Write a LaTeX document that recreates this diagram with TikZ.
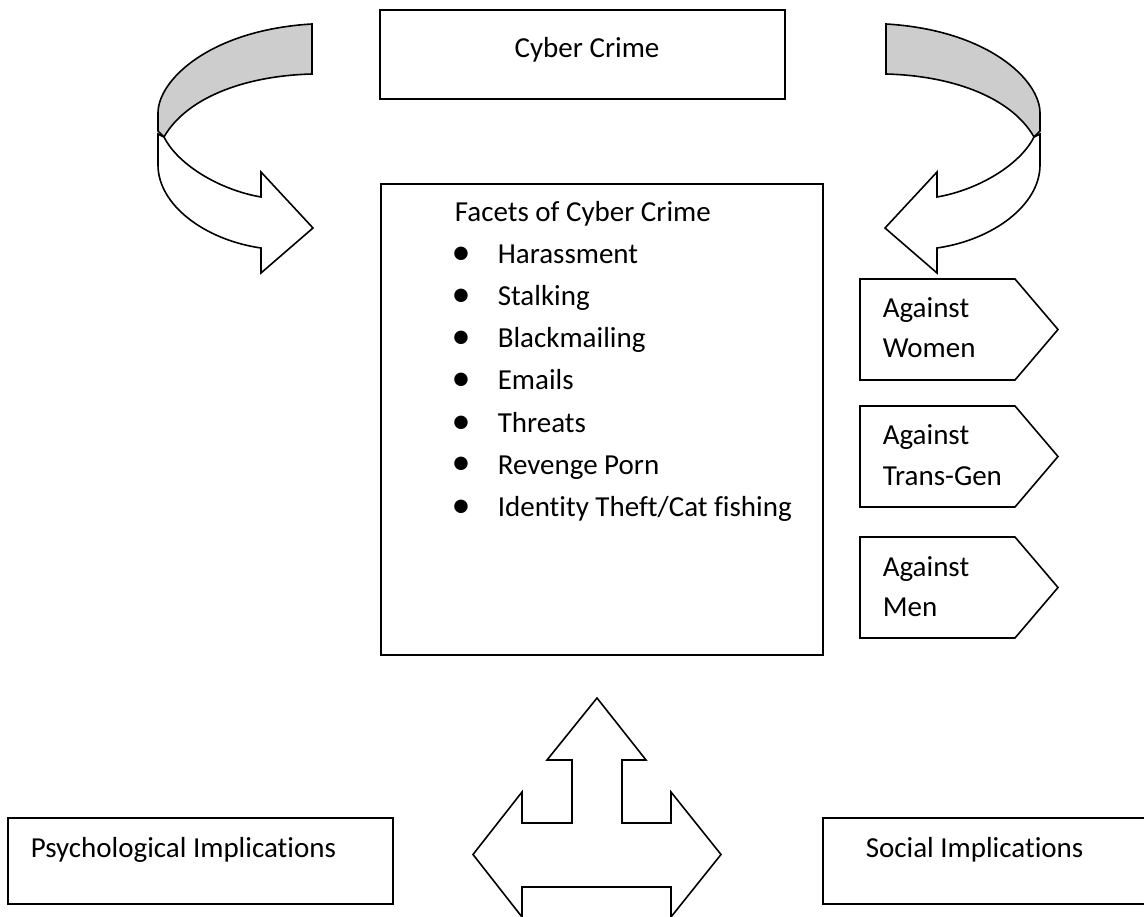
\documentclass[tikz,border=0pt]{standalone}
\usepackage{fontspec}
\setmainfont[Ligatures={NoCommon}]{Carlito}
\definecolor{bandgray}{RGB}{205,205,205}

% curled ribbon arrow, drawn pointing to the right
\newcommand{\curlribbon}{%
  % back of the ribbon (shaded)
  \filldraw[fill=bandgray]
    (312,24) -- (312,74)
    .. controls (240,76) and (185,100) .. (164,137)
    -- (158,131) -- (158,113)
    .. controls (158,80) and (210,30) .. (312,24) -- cycle;
  % front of the ribbon with its head
  \filldraw[fill=white]
    (158,134) -- (158,165)
    .. controls (158,205) and (205,240) .. (261,248)
    -- (261,273) -- (313,228) -- (261,172) -- (261,197)
    .. controls (220,190) and (178,165) .. (164,137) -- cycle;
}

\begin{document}
\begin{tikzpicture}[x=1pt, y=-1pt, line width=1.6pt, line join=miter,
  box/.style={draw, rectangle, inner sep=0pt, fill=white},
  txt/.style={anchor=base west, inner sep=0pt, font=\fontsize{29}{35}\selectfont},
  ctxt/.style={anchor=base, inner sep=0pt, font=\fontsize{29}{35}\selectfont},
  dot/.style={anchor=base, inner sep=0pt, font=\fontsize{38}{38}\selectfont},
  pointer/.style={draw, fill=white}]
\useasboundingbox (0,0) rectangle (1144,917);

% top box
\node[box, minimum width=405pt, minimum height=89pt] (cyber) at (582.5,54.5) {};
\node[ctxt] (cyberT) at (587,58) {Cyber Crime};

% curled arrows on both sides
\begin{scope}
  \curlribbon
\end{scope}
\begin{scope}[xshift=1198pt, xscale=-1]
  \curlribbon
\end{scope}

% central box with the list of facets
\node[box, minimum width=442pt, minimum height=471pt] (facets) at (602,419.5) {};
\node[txt] (facetsT) at (454,222) {Facets of Cyber Crime};
\foreach \t [count=\i] in {Harassment, Stalking, Blackmailing, Emails, Threats,
    Revenge Porn, Identity Theft/Cat fishing} {
  \node[dot] (b\i) at (461,{265+42*(\i-1)}) {•};
  \node[txt] (item\i) at (497,{264+42*(\i-1)}) {\t};
}

% pointed labels on the right
\foreach \top/\nm/\la/\lb in {279/women/Against/Women, 406/trans/Against/Trans-Gen, 537/men/Against/Men} {
  \draw[pointer] (860,\top) -- (1015,\top) -- (1058,\top+50.5) -- (1015,\top+101)
     -- (860,\top+101) -- cycle;
  \node[txt] (\nm A) at (882,\top+39) {\la};
  \node[txt] (\nm B) at (882,\top+79) {\lb};
}

% three-way block arrow
\draw[fill=white]
  (597,698) -- (646,760) -- (622,760) -- (622,823) -- (671,823) -- (671,792)
  -- (721,854.5) -- (671,917) -- (671,887) -- (522,887) -- (522,917)
  -- (473,854.5) -- (522,792) -- (522,823) -- (572,823) -- (572,760)
  -- (547,760) -- cycle;

% bottom boxes
\node[box, minimum width=385pt, minimum height=86pt] (psych) at (200.5,861) {};
\node[txt] (psychT) at (30,857) {Psychological Implications};
\node[box, minimum width=330pt, minimum height=86pt] (social) at (988,861) {};
\node[txt] (socialT) at (865,857) {Social Implications};
\end{tikzpicture}
\end{document}
